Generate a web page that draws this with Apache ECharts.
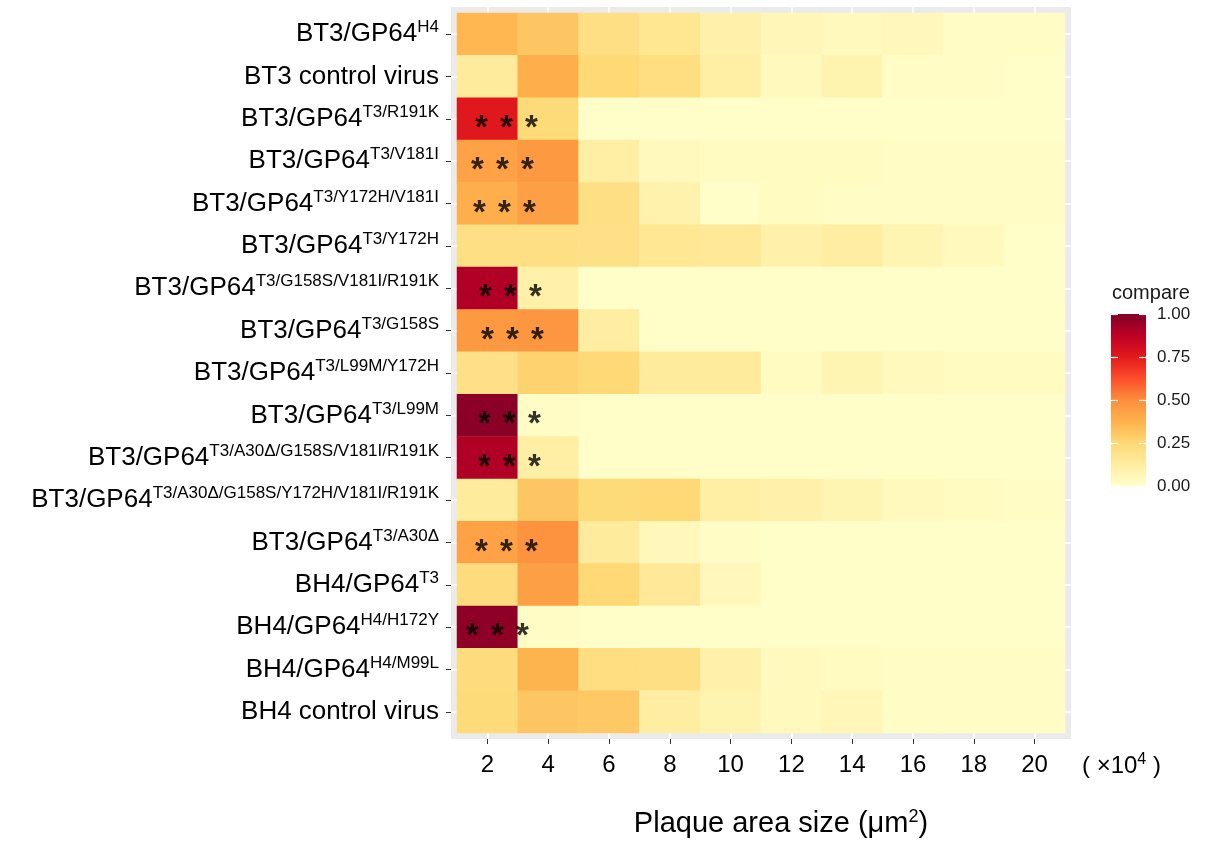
<!DOCTYPE html>
<html>
<head>
<meta charset="utf-8">
<script src="https://cdn.jsdelivr.net/npm/echarts@6/dist/echarts.min.js"></script>
<style>
html,body{margin:0;padding:0;background:#ffffff;}
#chart{width:1205px;height:844px;}
</style>
</head>
<body>
<div id="chart"></div>
<script>
// ---------------- DATA ----------------
const xLabels = ['2', '4', '6', '8', '10', '12', '14', '16', '18', '20'];

const rowLabels = [
  'BT3/GP64^H4',
  'BT3 control virus',
  'BT3/GP64^T3/R191K',
  'BT3/GP64^T3/V181I',
  'BT3/GP64^T3/Y172H/V181I',
  'BT3/GP64^T3/Y172H',
  'BT3/GP64^T3/G158S/V181I/R191K',
  'BT3/GP64^T3/G158S',
  'BT3/GP64^T3/L99M/Y172H',
  'BT3/GP64^T3/L99M',
  'BT3/GP64^T3/A30Δ/G158S/V181I/R191K',
  'BT3/GP64^T3/A30Δ/G158S/Y172H/V181I/R191K',
  'BT3/GP64^T3/A30Δ',
  'BH4/GP64^T3',
  'BH4/GP64^H4/H172Y',
  'BH4/GP64^H4/M99L',
  'BH4 control virus'
];

// "compare" value for each row, columns 2 ... 20 (x10^4 µm²)
const rowBT3_H4          = [0.36, 0.31, 0.21, 0.17, 0.10, 0.06, 0.04, 0.05, 0.02, 0.02];
const rowBT3_control     = [0.14, 0.39, 0.25, 0.22, 0.11, 0.04, 0.08, 0.02, 0.02, 0.01];
const rowT3_R191K        = [0.76, 0.24, 0.01, 0.01, 0.01, 0.01, 0.01, 0.01, 0.01, 0.01];
const rowT3_V181I        = [0.43, 0.46, 0.11, 0.04, 0.03, 0.03, 0.03, 0.02, 0.02, 0.02];
const rowT3_Y172H_V181I  = [0.39, 0.44, 0.21, 0.09, 0.01, 0.03, 0.02, 0.02, 0.02, 0.02];
const rowT3_Y172H        = [0.21, 0.21, 0.20, 0.16, 0.15, 0.10, 0.12, 0.07, 0.04, 0.01];
const rowT3_G158S_V181I_R191K = [0.90, 0.10, 0.01, 0.01, 0.01, 0.01, 0.01, 0.01, 0.01, 0.01];
const rowT3_G158S        = [0.46, 0.47, 0.12, 0.01, 0.01, 0.01, 0.01, 0.01, 0.01, 0.01];
const rowT3_L99M_Y172H   = [0.20, 0.27, 0.25, 0.14, 0.14, 0.03, 0.07, 0.04, 0.03, 0.03];
const rowT3_L99M         = [0.98, 0.02, 0.01, 0.01, 0.01, 0.01, 0.01, 0.01, 0.01, 0.01];
const rowT3_A30_G158S_V181I_R191K = [0.90, 0.11, 0.01, 0.01, 0.01, 0.01, 0.01, 0.01, 0.01, 0.01];
const rowT3_A30_G158S_Y172H_V181I_R191K = [0.14, 0.31, 0.24, 0.25, 0.11, 0.10, 0.07, 0.04, 0.03, 0.02];
const rowT3_A30          = [0.43, 0.48, 0.14, 0.05, 0.02, 0.01, 0.01, 0.01, 0.01, 0.01];
const rowBH4_T3          = [0.23, 0.44, 0.25, 0.15, 0.05, 0.01, 0.01, 0.01, 0.01, 0.01];
const rowH4_H172Y        = [0.97, 0.02, 0.01, 0.01, 0.01, 0.01, 0.01, 0.01, 0.01, 0.01];
const rowH4_M99L         = [0.23, 0.37, 0.22, 0.21, 0.10, 0.04, 0.03, 0.02, 0.02, 0.02];
const rowBH4_control     = [0.24, 0.31, 0.30, 0.12, 0.08, 0.04, 0.06, 0.02, 0.02, 0.02];

const rowValues = [
  rowBT3_H4, rowBT3_control, rowT3_R191K, rowT3_V181I, rowT3_Y172H_V181I, rowT3_Y172H,
  rowT3_G158S_V181I_R191K, rowT3_G158S, rowT3_L99M_Y172H, rowT3_L99M,
  rowT3_A30_G158S_V181I_R191K, rowT3_A30_G158S_Y172H_V181I_R191K, rowT3_A30,
  rowBH4_T3, rowH4_H172Y, rowH4_M99L, rowBH4_control
];

// rows marked "***" (in the first column, 2 x10^4)
const significantRows = [
  'BT3/GP64^T3/R191K', 'BT3/GP64^T3/V181I', 'BT3/GP64^T3/Y172H/V181I',
  'BT3/GP64^T3/G158S/V181I/R191K', 'BT3/GP64^T3/G158S', 'BT3/GP64^T3/L99M',
  'BT3/GP64^T3/A30Δ/G158S/V181I/R191K', 'BT3/GP64^T3/A30Δ', 'BH4/GP64^H4/H172Y'
];
const significanceMark = '{a|*}{a|*}{a|*}';

const legendTickValues = [0, 0.25, 0.5, 0.75, 1];
const legendTitle = 'compare';

// ---------------- STYLE / LAYOUT ----------------
const FONT = "'Liberation Sans', Arial, Helvetica, sans-serif";
const palette = ['#FFFFCC', '#FFEDA0', '#FED976', '#FEB24C', '#FD8D3C', '#FC4E2A', '#E31A1C', '#BD0026', '#800026'];

const tile = { left: 457, top: 13, width: 608, height: 720 };
const pad = 6; // grey panel margin around the tiles
const colW = tile.width / xLabels.length;
const rowH = tile.height / rowLabels.length;

// horizontal pixel nudges for the "***" labels (per row, label layout only)
const starNudge = {
  'BT3/GP64^T3/R191K': 19, 'BT3/GP64^T3/V181I': 15, 'BT3/GP64^T3/Y172H/V181I': 17,
  'BT3/GP64^T3/G158S/V181I/R191K': 23, 'BT3/GP64^T3/G158S': 25, 'BT3/GP64^T3/L99M': 22,
  'BT3/GP64^T3/A30Δ/G158S/V181I/R191K': 22, 'BT3/GP64^T3/A30Δ': 19, 'BH4/GP64^H4/H172Y': 10
};

// ---------------- BUILD ----------------
const heatData = [];
rowValues.forEach((vals, j) => {
  vals.forEach((v, i) => heatData.push([i, j, v]));
});

const starData = significantRows.map(r => ({
  value: [0, rowLabels.indexOf(r)],
  label: { offset: [starNudge[r] || 0, 10] }
}));

const gridLineData = [];
xLabels.forEach((_, i) => gridLineData.push({ xAxis: i + 1 }));
rowLabels.forEach((_, j) => gridLineData.push({ yAxis: j + 1 }));

function rowLabelFormatter(value) {
  const parts = value.split('^');
  if (parts.length > 1) return '{b|' + parts[0] + '}{s|' + parts[1] + '}';
  return '{b|' + value + '}';
}

const legendStops = palette.map((c, k) => ({ offset: k / (palette.length - 1), color: c }));

const chart = echarts.init(document.getElementById('chart'), null, { renderer: 'canvas' });

const option = {
  backgroundColor: '#ffffff',
  animation: false,
  textStyle: { fontFamily: FONT },
  grid: [
    { // 0: tiles
      left: tile.left, top: tile.top, width: tile.width, height: tile.height,
      containLabel: false, outerBoundsMode: 'none', show: false
    },
    { // 1: grey panel background
      left: tile.left - pad, top: tile.top - pad, width: tile.width + 2 * pad, height: tile.height + 2 * pad,
      containLabel: false, outerBoundsMode: 'none', show: true, backgroundColor: '#EBEBEB', borderWidth: 0
    },
    { // 2: colour bar
      left: 1111, top: 314, width: 35, height: 172,
      containLabel: false, outerBoundsMode: 'none', show: false
    }
  ],
  xAxis: [
    {
      gridIndex: 0, type: 'category', data: xLabels, position: 'bottom', offset: pad,
      axisLine: { show: false },
      axisTick: { show: true, alignWithLabel: true, length: 5, lineStyle: { color: '#333333', width: 1 } },
      axisLabel: { show: true, interval: 0, margin: 14, fontSize: 24, color: '#000000', fontFamily: FONT },
      splitLine: { show: false }
    },
    {
      gridIndex: 1, type: 'value', min: 0.5 - pad / colW, max: xLabels.length + 0.5 + pad / colW,
      show: false, splitLine: { show: false }
    },
    {
      gridIndex: 2, type: 'category', data: ['bar'], show: false
    }
  ],
  yAxis: [
    {
      gridIndex: 0, type: 'category', data: rowLabels, inverse: true, position: 'left', offset: pad,
      axisLine: { show: false },
      axisTick: { show: true, alignWithLabel: true, length: 5, lineStyle: { color: '#333333', width: 1 } },
      axisLabel: {
        show: true, interval: 0, margin: 12, formatter: rowLabelFormatter,
        rich: {
          b: { fontSize: 26, lineHeight: 30, color: '#000000', fontFamily: FONT, verticalAlign: 'middle' },
          s: { fontSize: 17, lineHeight: 24, color: '#000000', fontFamily: FONT, verticalAlign: 'top' }
        }
      },
      splitLine: { show: false }
    },
    {
      gridIndex: 1, type: 'value', inverse: true,
      min: 0.5 - pad / rowH, max: rowLabels.length + 0.5 + pad / rowH,
      show: false, splitLine: { show: false }
    },
    {
      gridIndex: 2, type: 'value', min: 0, max: 1, interval: 0.25, position: 'left', z: 10,
      axisLine: { show: false },
      axisTick: { show: true, inside: true, length: 7, lineStyle: { color: '#ffffff', width: 1.2 } },
      axisLabel: { show: false }, splitLine: { show: false }
    },
    {
      gridIndex: 2, type: 'value', min: 0, max: 1, interval: 0.25, position: 'right', z: 10,
      axisLine: { show: false },
      axisTick: { show: true, inside: true, length: 7, lineStyle: { color: '#ffffff', width: 1.2 } },
      axisLabel: {
        show: true, margin: 11, fontSize: 17, color: '#1a1a1a', fontFamily: FONT,
        formatter: v => (legendTickValues.indexOf(v) >= 0 ? v.toFixed(2) : '')
      },
      splitLine: { show: false }
    }
  ],
  visualMap: {
    type: 'continuous', min: 0, max: 1, dimension: 2, seriesIndex: 1, show: false,
    inRange: { color: palette }
  },
  series: [
    { // white panel grid lines (under the tiles)
      type: 'line', xAxisIndex: 1, yAxisIndex: 1, data: [], z: 5, silent: true,
      markLine: {
        silent: true, symbol: ['none', 'none'], animation: false,
        label: { show: false },
        lineStyle: { color: '#ffffff', width: 1.5, type: 'solid' },
        emphasis: { disabled: true },
        data: gridLineData
      }
    },
    {
      type: 'heatmap', xAxisIndex: 0, yAxisIndex: 0, data: heatData, z: 10,
      itemStyle: { borderWidth: 0 }, emphasis: { disabled: true }, progressive: 0
    },
    {
      type: 'scatter', xAxisIndex: 0, yAxisIndex: 0, data: starData, z: 12,
      symbolSize: 0, silent: true,
      label: {
        show: true, position: 'inside', formatter: significanceMark,
        rich: {
          a: { width: 25, align: 'center', fontSize: 33, fontWeight: 'bold', color: '#000000', fontFamily: FONT }
        }
      }
    },
    {
      type: 'bar', xAxisIndex: 2, yAxisIndex: 2, data: [1], barWidth: '100%', z: 2, silent: true,
      itemStyle: {
        color: { type: 'linear', x: 0, y: 1, x2: 0, y2: 0, colorStops: legendStops }
      }
    }
  ],
  graphic: [
    {
      type: 'text', left: 1112, top: 283, silent: true,
      style: { text: legendTitle, fontSize: 20, fill: '#1a1a1a', fontFamily: FONT }
    },
    {
      type: 'text', x: 781, y: 824, silent: true,
      style: {
        text: '{t|Plaque area size (μm}{s|2}{t|)}',
        textAlign: 'center', textVerticalAlign: 'middle',
        rich: {
          t: { fontSize: 29, lineHeight: 32, fill: '#000000', fontFamily: FONT, verticalAlign: 'middle' },
          s: { fontSize: 18, lineHeight: 26, fill: '#000000', fontFamily: FONT, verticalAlign: 'top' }
        }
      }
    },
    {
      type: 'text', x: 1082, y: 766, silent: true,
      style: {
        text: '{t|( ×10}{s|4}{t| )}',
        textAlign: 'left', textVerticalAlign: 'middle',
        rich: {
          t: { fontSize: 24, lineHeight: 28, fill: '#000000', fontFamily: FONT, verticalAlign: 'middle' },
          s: { fontSize: 16, lineHeight: 22, fill: '#000000', fontFamily: FONT, verticalAlign: 'top' }
        }
      }
    }
  ]
};

chart.setOption(option);
</script>
</body>
</html>
